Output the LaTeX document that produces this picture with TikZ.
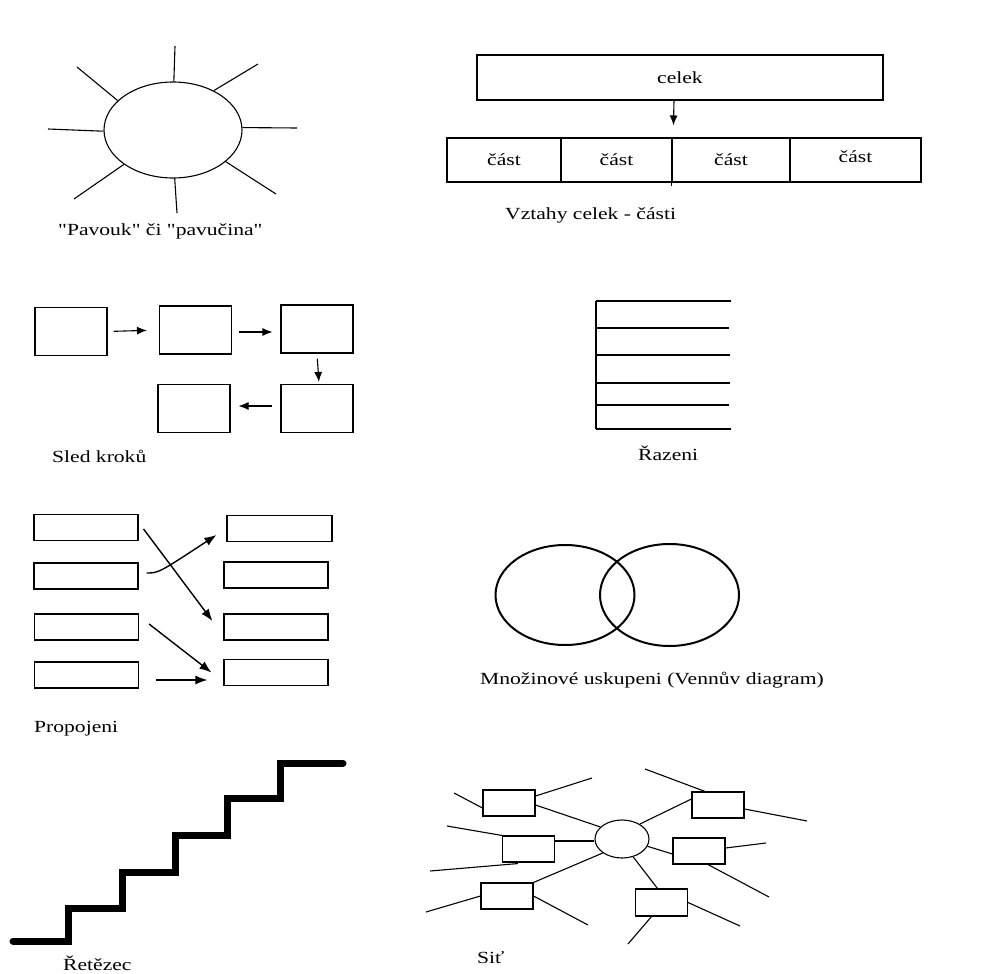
\documentclass[tikz,border=0pt]{standalone}
\usepackage{fontspec}
\setmainfont{Liberation Serif}[FakeStretch=1.27,Ligatures=TeXOff]
\usetikzlibrary{shapes.geometric,arrows.meta,calc}

\newlength{\du}
\setlength{\du}{1pt}
\newcommand{\capfont}{\fontsize{17}{20}\selectfont}

\tikzset{
  plainline/.style={line width=1.1\du},
  plainbox/.style={draw,rectangle,line width=1.1\du,inner sep=0pt},
  stepbox/.style={plainbox,minimum width=72\du,minimum height=48\du},
  linkbox/.style={plainbox,minimum width=104\du,minimum height=26\du},
  netbox/.style={plainbox,minimum width=52\du,minimum height=26\du},
  partbox/.style={plainbox,minimum height=44\du,font=\capfont},
  caption/.style={anchor=base west,inner sep=0pt,font=\capfont},
  tip/.style={-{Latex[length=10pt,width=8pt]},line width=1.1\du},
  bigtip/.style={-{Latex[length=12pt,width=9pt]},line width=1.4\du},
}

\begin{document}
\begin{tikzpicture}[x=\du,y=-\du]
\useasboundingbox (0,0) rectangle (1002,974);

% pavouk
\node[draw,ellipse,plainline,inner sep=0pt,minimum width=138\du,minimum height=96\du] (sp) at (173,130) {};
\coordinate (spn) at (175,46);
\coordinate (spne) at (258,64);
\coordinate (spe) at (297,128);
\coordinate (spse) at (276,194);
\coordinate (sps) at (177,213);
\coordinate (spsw) at (74,199);
\coordinate (spw) at (48,129);
\coordinate (spnw) at (77,67);
\draw[plainline] (sp.89) -- (spn);
\draw[plainline] (sp.44) -- (spne);
\draw[plainline] (sp.2) -- (spe);
\draw[plainline] (sp.-31) -- (spse);
\draw[plainline] (sp.-88) -- (sps);
\draw[plainline] (sp.215) -- (spsw);
\draw[plainline] (sp.181) -- (spw);
\draw[plainline] (sp.152) -- (spnw);
\node[caption] (spcap) at (58,235) {"Pavouk" či "pavučina"};

% celek - casti
\node[plainbox,minimum width=406\du,minimum height=45\du,font=\capfont] (celek) at (680,77.5) {celek};
\node[partbox,minimum width=114\du] (p1) at (504,160) {část};
\node[partbox,minimum width=111\du] (p2) at (616.5,160) {část};
\node[partbox,minimum width=118\du] (p3) at (731,160) {část};
\node[partbox,minimum width=131\du] (p4) at (855.5,160) {};
\node[font=\capfont,inner sep=0pt] (p4t) at (855.5,157) {část};
\draw[plainline] (p3.south west) -- ++(0,3);
\draw[tip] ($(celek.south)+(-6,0)$) -- ($(p3.north west)+(2,-12)$);
\node[caption] (wpcap) at (505,219) {Vztahy celek - části};

% sled kroku
\node[stepbox] (s1) at (71,331.5) {};
\node[stepbox] (s2) at (195.5,330) {};
\node[stepbox] (s3) at (317,329) {};
\node[stepbox] (s4) at (317,408.5) {};
\node[stepbox] (s5) at (194,408.5) {};
\draw[tip,shorten <=6\du,shorten >=12\du] (s1.east) -- (s2.west);
\draw[tip,shorten <=7\du,shorten >=8\du] ($(s2.east)+(0,2)$) -- ($(s3.west)+(0,3)$);
\draw[tip,shorten <=5\du,shorten >=2\du] (s3.south) -- ($(s4.north)+(2,0)$);
\draw[tip,shorten <=8\du,shorten >=8\du] ($(s4.west)+(0,-2.5)$) -- ($(s5.east)+(0,-2.5)$);
\node[caption] (skcap) at (52,462) {Sled kroků};

% razeni
\coordinate (rz) at (596,301);
\draw[plainline,line width=1.4\du] (rz) -- (596,429);
\foreach \yy/\xx in {301/731,328/729,355/730,383/730,405/729,429/731}
  \draw[plainline,line width=1.4\du] (596,\yy) -- (\xx,\yy);
\node[caption] (rzcap) at (638,460) {Řazeni};

% propojeni
\node[linkbox] (l1) at (86,527.5) {};
\node[linkbox] (l2) at (86,576) {};
\node[linkbox] (l3) at (86.5,627) {};
\node[linkbox] (l4) at (86.5,675) {};
\node[linkbox,minimum width=105\du] (r1) at (279.5,528.5) {};
\node[linkbox] (r2) at (276,575) {};
\node[linkbox] (r3) at (276,627) {};
\node[linkbox] (r4) at (276,672.5) {};
\draw[bigtip] ($(l1.east)+(5,1.5)$) -- ($(r3.west)+(-11,-6)$);
\draw[bigtip] ($(l2.east)+(8,-3)$) .. controls ($(l2.east)+(20,-3)$) .. ($(r1.west)+(-10,6.5)$);
\draw[bigtip] ($(l3.east)+(10,-3)$) -- ($(r4.west)+(-12,0)$);
\draw[bigtip] ($(l4.east)+(17,5)$) -- ($(r4.west)+(-16,7.5)$);
\node[caption] (ppcap) at (34,732) {Propojeni};

% venn
\node[draw,ellipse,line width=2\du,inner sep=0pt,minimum width=139\du,minimum height=100\du] (v1) at (565,595) {};
\node[draw,ellipse,line width=2\du,inner sep=0pt,minimum width=139\du,minimum height=102\du] (v2) at (669.5,595) {};
\node[caption] (vncap) at (480,684) {Množinové uskupeni (Vennův diagram)};

% retezec
\draw[line width=7\du,line cap=round,line join=miter]
  (13,941) -- (68,941) -- (68,908) -- (122,908) -- (122,872) -- (175,872)
  -- (175,835) -- (227,835) -- (227,798) -- (280,798) -- (280,763) -- (343,763);
\node[caption] (rtcap) at (63,970) {Řetězec};

% sit
\node[draw,ellipse,plainline,inner sep=0pt,minimum width=54\du,minimum height=38\du] (hub) at (622,839) {};
\node[netbox] (b1) at (509,803) {};
\node[netbox] (b2) at (528.5,849) {};
\node[netbox] (b3) at (507,896) {};
\node[netbox] (b4) at (718,805) {};
\node[netbox] (b5) at (699,851) {};
\node[netbox,minimum height=27\du] (b6) at (661.5,902.5) {};
\draw[plainline] ($(b1.east)+(0,2)$) -- (hub.151);
\draw[plainline] ($(b2.east)+(0,-8)$) -- ($(hub.west)+(0,2)$);
\draw[plainline] (b3.north east) -- (hub.216);
\draw[plainline] ($(b4.west)+(0,-6)$) -- (hub.40);
\draw[plainline] ($(b5.west)+(0,3)$) -- (hub.344);
\draw[plainline] ($(b6.north)+(-4,0)$) -- (hub.302);
\coordinate (o1) at (454,793);
\coordinate (o2) at (592,778);
\coordinate (o3) at (447,826);
\coordinate (o4) at (430,871);
\coordinate (o5) at (426,912);
\coordinate (o6) at (588,925);
\coordinate (o7) at (645,769);
\coordinate (o8) at (807,821);
\coordinate (o9) at (766,843);
\coordinate (o10) at (769,897);
\coordinate (o11) at (740,926);
\coordinate (o12) at (628,944);
\draw[plainline] ($(b1.west)+(0,5)$) -- (o1);
\draw[plainline] ($(b1.east)+(0,-7)$) -- (o2);
\draw[plainline] (b2.north west) -- (o3);
\draw[plainline] ($(b2.south west)+(16,1)$) -- (o4);
\draw[plainline] (b3.west) -- (o5);
\draw[plainline] (b3.east) -- (o6);
\draw[plainline] ($(b4.north)+(-13,0)$) -- (o7);
\draw[plainline] ($(b4.east)+(0,4)$) -- (o8);
\draw[plainline] ($(b5.east)+(0,-3)$) -- (o9);
\draw[plainline] ($(b5.south)+(9,0)$) -- (o10);
\draw[plainline] (b6.east) -- (o11);
\draw[plainline] ($(b6.south)+(-10,0)$) -- (o12);
\node[caption] (stcap) at (477,963) {Siť};
\end{tikzpicture}
\end{document}
